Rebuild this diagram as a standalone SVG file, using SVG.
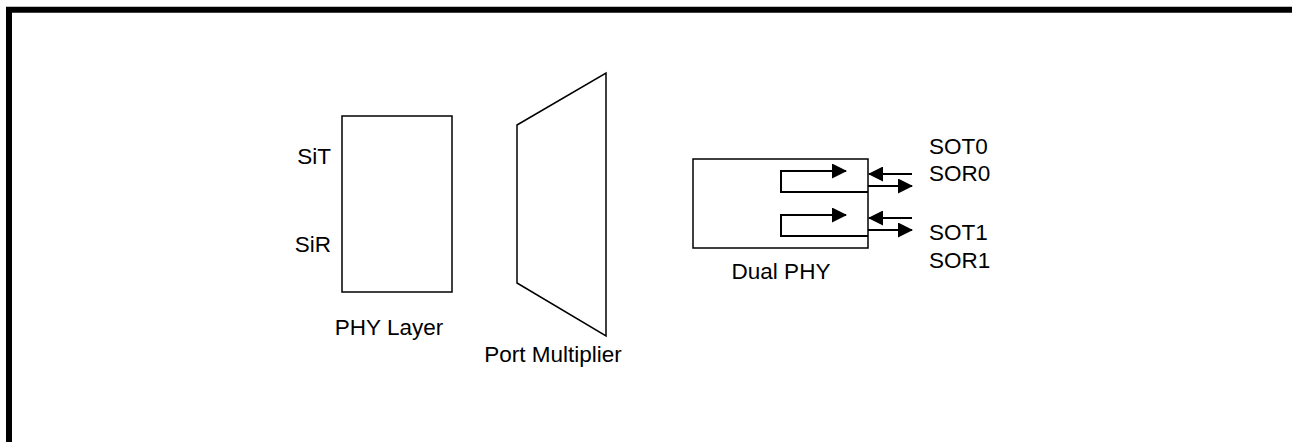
<svg xmlns="http://www.w3.org/2000/svg" width="1292" height="442" viewBox="0 0 1292 442">
<style>
  text { font-family: "Liberation Sans", Arial, sans-serif; font-size: 22.5px; fill: #000; }
  .box { fill: none; stroke: #000; stroke-width: 1.5; }
  .wire { fill: none; stroke: #000; stroke-width: 2; }
</style>
<defs>
  <marker id="ah" markerUnits="userSpaceOnUse" markerWidth="15" markerHeight="15" viewBox="0 0 15 15" refX="14" refY="7.5" orient="auto">
    <path d="M0,0 L15,7.5 L0,15 Z" fill="#000"/>
  </marker>
</defs>
<rect width="1292" height="442" fill="#fff"/>
<path d="M9,442 V9.7 H1292" fill="none" stroke="#000" stroke-width="6"/>
<g id="phy-layer">
  <rect class="box" x="342" y="116" width="110" height="176"/>
  <text x="331" y="164" text-anchor="end">SiT</text>
  <text x="331" y="252" text-anchor="end">SiR</text>
  <text x="389" y="335" text-anchor="middle">PHY Layer</text>
</g>
<g id="port-multiplier">
  <polygon class="box" points="517,125 606,73 606,336 517,283"/>
  <text x="553" y="362" text-anchor="middle">Port Multiplier</text>
</g>
<g id="dual-phy">
  <rect class="box" x="693" y="159" width="175" height="89"/>
  <text x="781" y="279" text-anchor="middle">Dual PHY</text>
</g>
<g id="signals">
  <text x="929" y="154">SOT0</text>
  <text x="929" y="181">SOR0</text>
  <text x="929" y="240">SOT1</text>
  <text x="929" y="268">SOR1</text>
</g>
<g id="connectors">
  <path class="wire" d="M868,192 H781 V171 H846" marker-end="url(#ah)"/>
  <path class="wire" d="M868,236 H781 V215 H846" marker-end="url(#ah)"/>
  <line class="wire" x1="868" y1="186" x2="912" y2="186" marker-end="url(#ah)"/>
  <line class="wire" x1="868" y1="230" x2="912" y2="230" marker-end="url(#ah)"/>
  <line class="wire" x1="912" y1="174" x2="869" y2="174" marker-end="url(#ah)"/>
  <line class="wire" x1="912" y1="218" x2="869" y2="218" marker-end="url(#ah)"/>
</g>
</svg>
